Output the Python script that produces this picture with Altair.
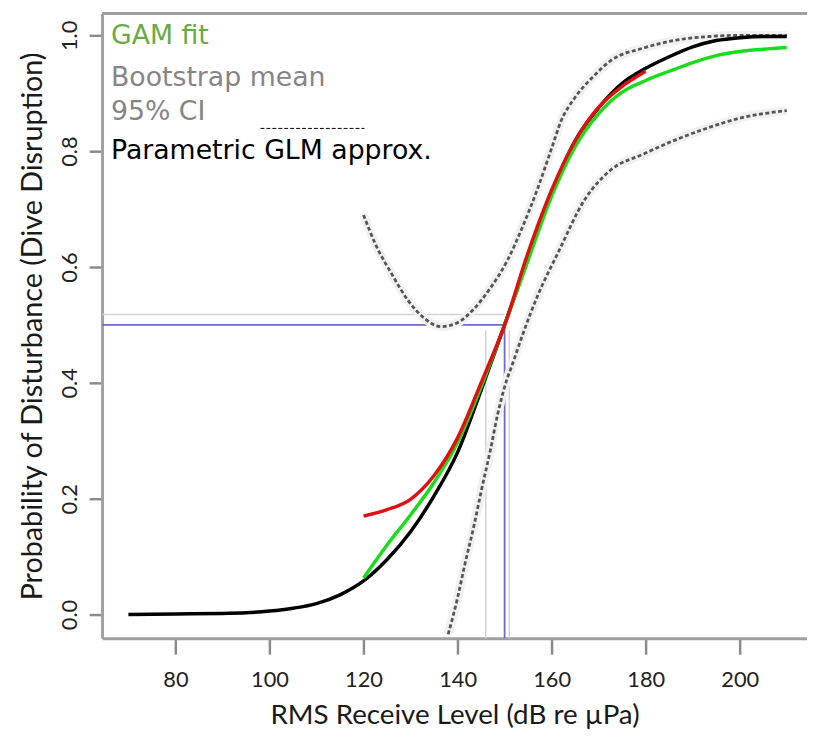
import altair as alt
import pandas as pd

# ---------------- data ----------------
x_ticks = [80, 100, 120, 140, 160, 180, 200]
y_ticks = [0.0, 0.2, 0.4, 0.6, 0.8, 1.0]

glm_x = [70, 80, 90, 95, 100, 105, 110, 115, 120, 125, 130, 135, 140, 145, 150,
         155, 160, 165, 170, 175, 180, 185, 190, 195, 200, 205, 210]
glm_p = [0.000, 0.001, 0.002, 0.003, 0.006, 0.011, 0.019, 0.034, 0.058, 0.095, 0.143,
         0.205, 0.280, 0.387, 0.500, 0.615, 0.728, 0.818, 0.875, 0.917, 0.943, 0.963,
         0.980, 0.991, 0.996, 0.998, 0.998]

gam_x = [120, 125, 130, 135, 140, 145, 150, 155, 160, 165, 170, 175, 180, 185,
         190, 195, 200, 205, 210]
gam_p = [0.063, 0.120, 0.172, 0.228, 0.297, 0.393, 0.500, 0.612, 0.722, 0.808, 0.865,
         0.902, 0.922, 0.938, 0.953, 0.965, 0.972, 0.976, 0.979]

boot_x = [120, 125, 130, 135, 140, 145, 150, 155, 160, 165, 170, 175, 180]
boot_p = [0.170, 0.181, 0.199, 0.240, 0.305, 0.400, 0.500, 0.625, 0.733, 0.818, 0.876,
          0.912, 0.938]

ci_hi_x = [120, 122.5, 126, 129.5, 133, 136.5, 140, 143.5, 147, 150.5, 154, 157, 160,
           162, 165, 169, 172.5, 179.5, 186, 193.5, 200, 210]
ci_hi_p = [0.690, 0.640, 0.588, 0.542, 0.511, 0.497, 0.504, 0.528, 0.564, 0.610, 0.673,
           0.735, 0.805, 0.852, 0.893, 0.930, 0.956, 0.978, 0.991, 0.998, 1.000, 1.000]

ci_lo_x = [138, 140, 141.5, 143.5, 145, 147, 148.5, 150, 152, 154, 157, 161.5, 167,
           172.5, 179.5, 186.5, 193.5, 200.5, 210]
ci_lo_p = [-0.034, 0.029, 0.085, 0.154, 0.212, 0.285, 0.345, 0.393, 0.440, 0.487, 0.550,
           0.627, 0.716, 0.767, 0.795, 0.820, 0.841, 0.858, 0.870]

ref_x = 150          # RL at 50 % probability
ref_p = 0.5
ghost_x = [146, 151]  # faint scan lines beside the reference

legend_labels = ["GAM fit", "Bootstrap mean", "95% CI", "Parametric GLM approx."]
legend_colors = ["#6aaa45", "#858585", "#858585", "#000000"]

# ---------------- layout ----------------
W, H = 712, 631
X_DOM = [64.4, 214.3]
Y_DOM = [-0.041, 1.0376]
FRAME = "#a0a0a0"
LABEL_FONT = "Lato"

xs = alt.Scale(domain=X_DOM, nice=False, zero=False)
ys = alt.Scale(domain=Y_DOM, nice=False, zero=False)

x_axis = alt.Axis(values=x_ticks, title="RMS Receive Level (dB re µPa)", grid=False,
                  domainColor=FRAME, domainWidth=3, tickColor="#8a8a8a", tickWidth=2.5,
                  tickSize=16, labelFont=LABEL_FONT, labelFontSize=22, labelColor="#222222",
                  labelPadding=16, titleFont=LABEL_FONT, titleFontSize=28,
                  titleFontWeight="normal", titleColor="#1a1a1a", titlePadding=11)
y_axis = alt.Axis(values=y_ticks, format=".1f", title="Probability of Disturbance (Dive Disruption)",
                  grid=False, domainColor=FRAME, domainWidth=3, tickColor="#8a8a8a",
                  tickWidth=2.5, tickSize=13, labelFont=LABEL_FONT, labelFontSize=22,
                  labelColor="#222222", labelAngle=270, labelAlign="center",
                  labelBaseline="bottom", labelPadding=8, titleFont=LABEL_FONT,
                  titleFontSize=29, titleFontWeight="normal", titleColor="#1a1a1a",
                  titlePadding=11)

X = alt.X("x:Q", scale=xs, axis=x_axis)
Y = alt.Y("p:Q", scale=ys, axis=y_axis)


def line(xv, pv, **style):
    d = pd.DataFrame({"x": xv, "p": pv})
    return alt.Chart(d).mark_line(interpolate="monotone", clip=True, **style).encode(x=X, y=Y)


ci_hi_halo = line(ci_hi_x, ci_hi_p, color="#f1f1f1", strokeWidth=9)
ci_lo_halo = line(ci_lo_x, ci_lo_p, color="#f1f1f1", strokeWidth=9)
ci_hi = line(ci_hi_x, ci_hi_p, color="#555555", strokeWidth=2.8, strokeDash=[4, 2.5])
ci_lo = line(ci_lo_x, ci_lo_p, color="#555555", strokeWidth=2.8, strokeDash=[4, 2.5])
glm = line(glm_x, glm_p, color="#000000", strokeWidth=3.5)
gam = line(gam_x, gam_p, color="#19dd19", strokeWidth=3.5)
boot = line(boot_x, boot_p, color="#e01010", strokeWidth=3.5)

ref_df = pd.DataFrame({"x": [ref_x], "p": [ref_p]})
h_ref = alt.Chart(ref_df).mark_rule(color="#6a6ad0", strokeWidth=1.8).encode(
    x=X, x2=alt.value(0), y=Y)
v_ref = alt.Chart(ref_df).mark_rule(color="#6a6ad0", strokeWidth=1.8).encode(
    x=X, y=Y, y2=alt.value(H))
h_ghost = alt.Chart(ref_df).mark_rule(color="#d2d2d2", strokeWidth=1.5).encode(
    x=X, x2=alt.value(0), y=alt.value(304))
ghost_df = pd.DataFrame({"x": ghost_x})
v_ghost = alt.Chart(ghost_df).mark_rule(color="#d2d2d2", strokeWidth=1.5).encode(
    x=X, y=alt.value(320), y2=alt.value(H))

top_frame = alt.Chart(ref_df).mark_rule(color=FRAME, strokeWidth=3).encode(
    x=alt.value(0), x2=alt.value(W), y=alt.value(0))

dash_key = alt.Chart(ref_df).mark_rule(color="#000000", strokeWidth=1, strokeDash=[4, 2]).encode(
    x=alt.value(160), x2=alt.value(265), y=alt.value(116))

legend_y = [31, 73, 108, 147]
legend_layers = []
for lab, col, yy in zip(legend_labels, legend_colors, legend_y):
    legend_layers.append(
        alt.Chart(ref_df).mark_text(text=lab, color=col, font="DejaVu Sans", fontSize=27,
                                    align="left", baseline="alphabetic").encode(
            x=alt.value(9), y=alt.value(yy)))

chart = alt.layer(
    h_ghost, v_ghost, h_ref, v_ref, ci_hi_halo, ci_lo_halo, ci_hi, ci_lo, glm, gam, boot,
    top_frame, dash_key, *legend_layers
).properties(
    width=W, height=H,
    autosize=alt.AutoSizeParams(type="none"),
    padding={"left": 95, "top": 2, "right": 0, "bottom": 90},
    background="white",
).configure_view(stroke=None)

chart.save("out.html", embed_options={"renderer": "svg", "actions": False})
